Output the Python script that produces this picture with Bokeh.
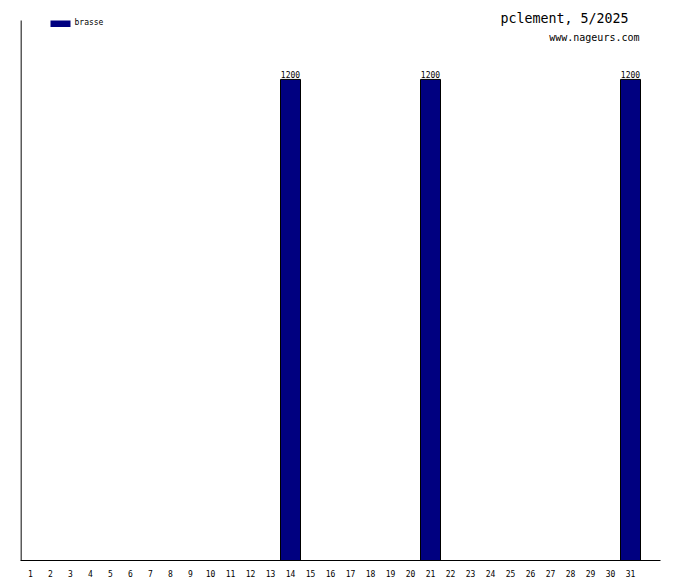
from bokeh.plotting import figure
from bokeh.models import FixedTicker, Range1d, Label, ColumnDataSource
from bokeh.core.properties import value
from bokeh.embed import file_html
from bokeh.resources import INLINE

# ---- data ----
days = list(range(1, 32))
brasse = [0] * 31
brasse[13] = 1200   # day 14
brasse[20] = 1200   # day 21
brasse[30] = 1200   # day 31
series_name = "brasse"
title_text = "pclement, 5/2025"
site_text = "www.nageurs.com"

BAR_COLOR = "#000080"
FONT = "DejaVu Sans Mono"
FRAME_H = 560                     # frame height in px (top of canvas to x axis)
Y_TOP = 1347                      # value at top of the left axis line (20px below canvas top)
Y_END = Y_TOP * FRAME_H / 540     # value at top of frame


def y_at(py):
    """data value at page pixel row py (frame spans 0..560)"""
    return Y_END * (FRAME_H - py) / FRAME_H


p = figure(width=680, height=580, output_backend="svg", toolbar_location=None,
           x_range=Range1d(0.5, 32.5), y_range=Range1d(0, Y_END),
           min_border_left=20, min_border_right=20, min_border_top=0, min_border_bottom=20)
p.outline_line_color = None
p.background_fill_color = "white"
p.border_fill_color = "white"
p.xgrid.visible = False
p.ygrid.visible = False

# x axis: line + day labels
p.xaxis.ticker = FixedTicker(ticks=days)
p.xaxis.major_tick_line_color = None
p.xaxis.minor_tick_line_color = None
p.xaxis.major_tick_out = 0
p.xaxis.major_tick_in = 0
p.xaxis.major_label_standoff = 9
p.xaxis.major_label_text_font = FONT
p.xaxis.major_label_text_font_size = "8px"
p.xaxis.major_label_text_color = "black"
p.xaxis.axis_line_color = "black"
p.xaxis.axis_line_width = 1

# y axis: hidden; left line drawn as a segment from 0 up to Y_TOP
p.yaxis.visible = False
p.segment(x0=[0.5 + 0.5 / 20], y0=[0], x1=[0.5 + 0.5 / 20], y1=[Y_TOP],
          line_color="black", line_width=1.3)

nz = [(d, v) for d, v in zip(days, brasse) if v > 0]
src = ColumnDataSource(dict(x=[d for d, _ in nz], top=[v for _, v in nz],
                            lbl=[str(v) for _, v in nz]))
p.vbar(x="x", top="top", width=1.0, bottom=0, source=src,
       fill_color=BAR_COLOR, line_color="black", line_width=1)
p.text(x="x", y="top", text="lbl", source=src, text_align="center",
       text_baseline="bottom", y_offset=-1, text_font=value(FONT),
       text_font_size="8px", text_color="black")

# legend
p.quad(left=[2.0], right=[3.0], top=[y_at(20)], bottom=[y_at(26.5)],
       fill_color=BAR_COLOR, line_color=None)
p.add_layout(Label(x=3.2, y=y_at(17), text=series_name, text_font=FONT,
                   text_font_size="8px", text_baseline="top", text_align="left",
                   text_color="black"))

# title texts
p.add_layout(Label(x=30.9, y=y_at(10), text=title_text, text_font=FONT,
                   text_font_size="13.3px", text_baseline="top", text_align="right",
                   text_color="black"))
p.add_layout(Label(x=31.45, y=y_at(31), text=site_text, text_font=FONT,
                   text_font_size="10px", text_baseline="top", text_align="right",
                   text_color="black"))

open("out.html", "w").write(file_html(p, INLINE))
